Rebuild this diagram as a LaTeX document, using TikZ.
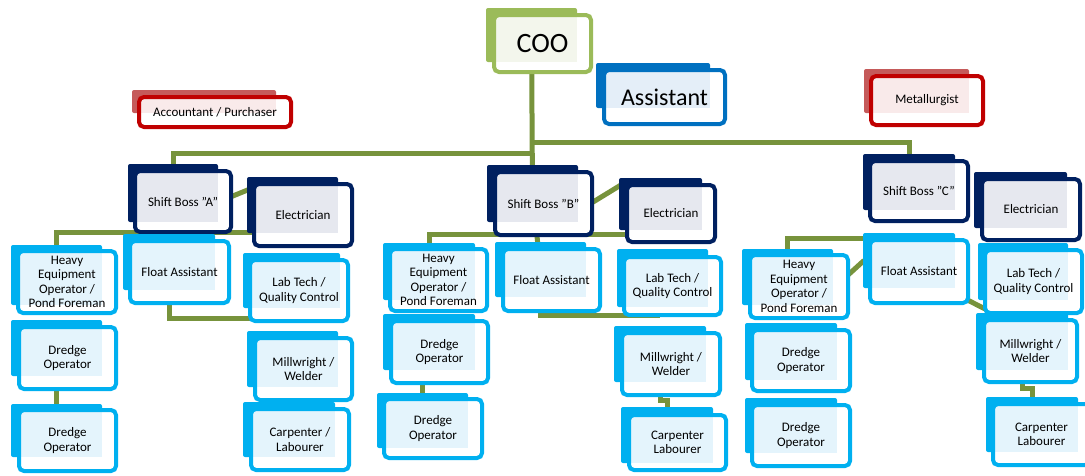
\documentclass[tikz,border=0pt]{standalone}
\usepackage{fontspec}
\setmainfont{Carlito}
\usetikzlibrary{calc}
\pgfdeclarelayer{links}
\pgfsetlayers{links,main}

% colour schemes: back tab, frame, light text panel
\definecolor{leafback}{HTML}{9BBB59}
\definecolor{leafline}{HTML}{9BBB59}
\definecolor{leaflight}{HTML}{F3F6EC}
\definecolor{oceanback}{HTML}{0070C0}
\definecolor{oceanline}{HTML}{0070C0}
\definecolor{oceanlight}{HTML}{E4EEF8}
\definecolor{roseback}{HTML}{C55A5A}
\definecolor{roseline}{HTML}{C00000}
\definecolor{roselight}{HTML}{F9EAEA}
\definecolor{navyback}{HTML}{002060}
\definecolor{navyline}{HTML}{002060}
\definecolor{navylight}{HTML}{E6E8EF}
\definecolor{skyback}{HTML}{00B0F0}
\definecolor{skyline}{HTML}{00B0F0}
\definecolor{skylight}{HTML}{E4F4FC}
\definecolor{linkgreen}{HTML}{77933C}

\tikzset{
  link/.style={draw=linkgreen, line width=5pt},
  boxtext/.style={font=\fontsize{13}{14.5}\selectfont, align=center, inner sep=0pt, text=black},
}

% #1 name, #2 scheme, #3/#4 back tab corners, #5/#6 frame outer corners, #7 text
\newcommand\orgbox[7]{%
  \coordinate (#1-bnw) at #3;
  \coordinate (#1-bse) at #4;
  \coordinate (#1-fnw) at #5;
  \coordinate (#1-fse) at #6;
  \coordinate (#1-b) at ($(#1-bnw)!0.5!(#1-bse)$);
  \fill[#2back, rounded corners=2pt] (#1-bnw) rectangle (#1-bse);
  \draw[draw=#2line, line width=4pt, rounded corners=5pt, fill=white,
        path picture={\fill[#2light, sharp corners] (#1-bnw) rectangle (#1-bse);}]
    ($(#1-fnw)+(2,2)$) rectangle ($(#1-fse)+(-2,-2)$);
  \node[boxtext] (#1) at ($(#1-fnw)!0.5!(#1-fse)$) {#7};
}
\newcommand\qt{\symbol{"22}}

\begin{document}
\begin{tikzpicture}[x=1pt, y=-1pt]
\useasboundingbox (0,0) rectangle (1085,475);

% top level
\orgbox{coo}{leaf}{(486,8)}{(577,62)}{(492,13)}{(593,74)}{\fontsize{28}{30}\selectfont COO}
\orgbox{asst}{ocean}{(596,63)}{(710,108)}{(602,68)}{(727,126)}{\fontsize{24}{26}\selectfont Assistant}
\orgbox{acct}{rose}{(132,90)}{(276,113)}{(137,95)}{(293,129)}{Accountant / Purchaser}
\orgbox{metal}{rose}{(864,69)}{(969,113)}{(869,74)}{(985,127)}{Metallurgist}

% shift A
\orgbox{sbA}{navy}{(128,164)}{(218,222)}{(133,169)}{(233,234)}{Shift Boss \qt A\qt}
\orgbox{elA}{navy}{(247,177)}{(338,233)}{(252,182)}{(354,248)}{Electrician}
\orgbox{heA}{sky}{(11,245)}{(102,305)}{(16,249)}{(118,315)}{Heavy\\Equipment\\Operator /\\Pond Foreman}
\orgbox{flA}{sky}{(123,234)}{(215,290)}{(128,239)}{(231,305)}{Float Assistant}
\orgbox{ltA}{sky}{(243,253)}{(340,308)}{(248,258)}{(350,323)}{Lab Tech /\\Quality Control}
\orgbox{drAa}{sky}{(11,320)}{(102,376)}{(17,325)}{(118,391)}{Dredge\\Operator}
\orgbox{drAb}{sky}{(11,404)}{(102,457)}{(17,408)}{(118,473)}{Dredge\\Operator}
\orgbox{mwA}{sky}{(247,331)}{(338,387)}{(253,336)}{(354,402)}{Millwright /\\Welder}
\orgbox{cpA}{sky}{(243,402)}{(335,457)}{(249,407)}{(351,472)}{Carpenter /\\Labourer}

% shift B
\orgbox{sbB}{navy}{(487,165)}{(578,222)}{(493,170)}{(594,237)}{Shift Boss \qt B\qt}
\orgbox{elB}{navy}{(619,178)}{(702,230)}{(625,183)}{(717,244)}{Electrician}
\orgbox{heB}{sky}{(383,243)}{(475,300)}{(388,247)}{(489,313)}{Heavy\\Equipment\\Operator /\\Pond Foreman}
\orgbox{flB}{sky}{(495,242)}{(586,297)}{(501,247)}{(602,313)}{Float Assistant}
\orgbox{ltB}{sky}{(617,249)}{(708,307)}{(622,255)}{(723,317)}{Lab Tech /\\Quality Control}
\orgbox{drBa}{sky}{(383,314)}{(475,370)}{(389,319)}{(490,385)}{Dredge\\Operator}
\orgbox{drBb}{sky}{(377,393)}{(468,448)}{(382,397)}{(484,460)}{Dredge\\Operator}
\orgbox{mwB}{sky}{(614,326)}{(706,382)}{(620,331)}{(722,397)}{Millwright /\\Welder}
\orgbox{cpB}{sky}{(621,407)}{(713,463)}{(627,413)}{(728,472)}{Carpenter\\Labourer}

% shift C
\orgbox{sbC}{navy}{(863,154)}{(955,210)}{(868,159)}{(970,223)}{Shift Boss \qt C\qt}
\orgbox{elC}{navy}{(974,172)}{(1067,228)}{(980,177)}{(1082,242)}{Electrician}
\orgbox{heC}{sky}{(742,249)}{(833,305)}{(748,253)}{(850,320)}{Heavy\\Equipment\\Operator /\\Pond Foreman}
\orgbox{flC}{sky}{(863,233)}{(955,288)}{(868,238)}{(970,305)}{Float Assistant}
\orgbox{ltC}{sky}{(978,243)}{(1068,300)}{(983,248)}{(1084,315)}{Lab Tech /\\Quality Control}
\orgbox{drCa}{sky}{(745,323)}{(837,380)}{(750,328)}{(852,393)}{Dredge\\Operator}
\orgbox{drCb}{sky}{(745,398)}{(837,453)}{(750,403)}{(852,468)}{Dredge\\Operator}
\orgbox{mwC}{sky}{(976,313)}{(1068,370)}{(982,318)}{(1079,384)}{Millwright /\\Welder}
\orgbox{cpC}{sky}{(986,397)}{(1078,452)}{(991,402)}{(1092,467)}{Carpenter\\Labourer}

% connectors, kept behind the boxes
\begin{pgfonlayer}{links}
  \coordinate (busL) at (0,153);
  \coordinate (busR) at (0,142);
  \draw[link] (coo-b) -- (sbB-b);
  \draw[link] (coo-b |- busL) -| (sbA-b);
  \draw[link] (coo-b |- busR) -| (sbC-b);

  % shift A
  \coordinate (busA) at (0,232);
  \coordinate (busAf) at (0,318);
  \draw[link] (sbA-b) -- (flA-b);
  \draw[link] (heA-b) |- (ltA-b |- busA);
  \draw[link] ($(sbA-b)+(50,7)$) -- ($(elA-b)+(-40,-17)$);
  \draw[link] (flA-b) |- (mwA-b |- busAf);
  \draw[link] (drAa-b) -- (drAb-b);
  \draw[link] (mwA-b) -- (cpA-b);

  % shift B
  \coordinate (busB) at (0,234);
  \coordinate (busBf) at (0,315);
  \coordinate (busBm) at (0,400);
  \draw[link] (sbB-b) -- (flB-b);
  \draw[link] (heB-b) |- (ltB-b |- busB);
  \draw[link] ($(sbB-b)+(50,15)$) -- ($(elB-b)+(-38,-20)$);
  \draw[link] (flB-b) |- (mwB-b |- busBf);
  \draw[link] (drBb-b |- drBa-b) -- (drBb-b);
  \draw[link] (mwB-b) |- (cpB-b |- busBm) -- (cpB-b);

  % shift C
  \coordinate (busC) at (0,238);
  \coordinate (busCm) at (0,388);
  \draw[link] (heC-b) |- (flC-b |- busC);
  \draw[link] ($(heC-b)+(55,3)$) -- ($(flC-b)+(-45,0)$);
  \draw[link] ($(flC-b)+(40,30)$) -- ($(ltC-b)+(-33,40)$);
  \draw[link] (mwC-b) |- (cpC-b |- busCm) -- (cpC-b);
\end{pgfonlayer}
\end{tikzpicture}
\end{document}
